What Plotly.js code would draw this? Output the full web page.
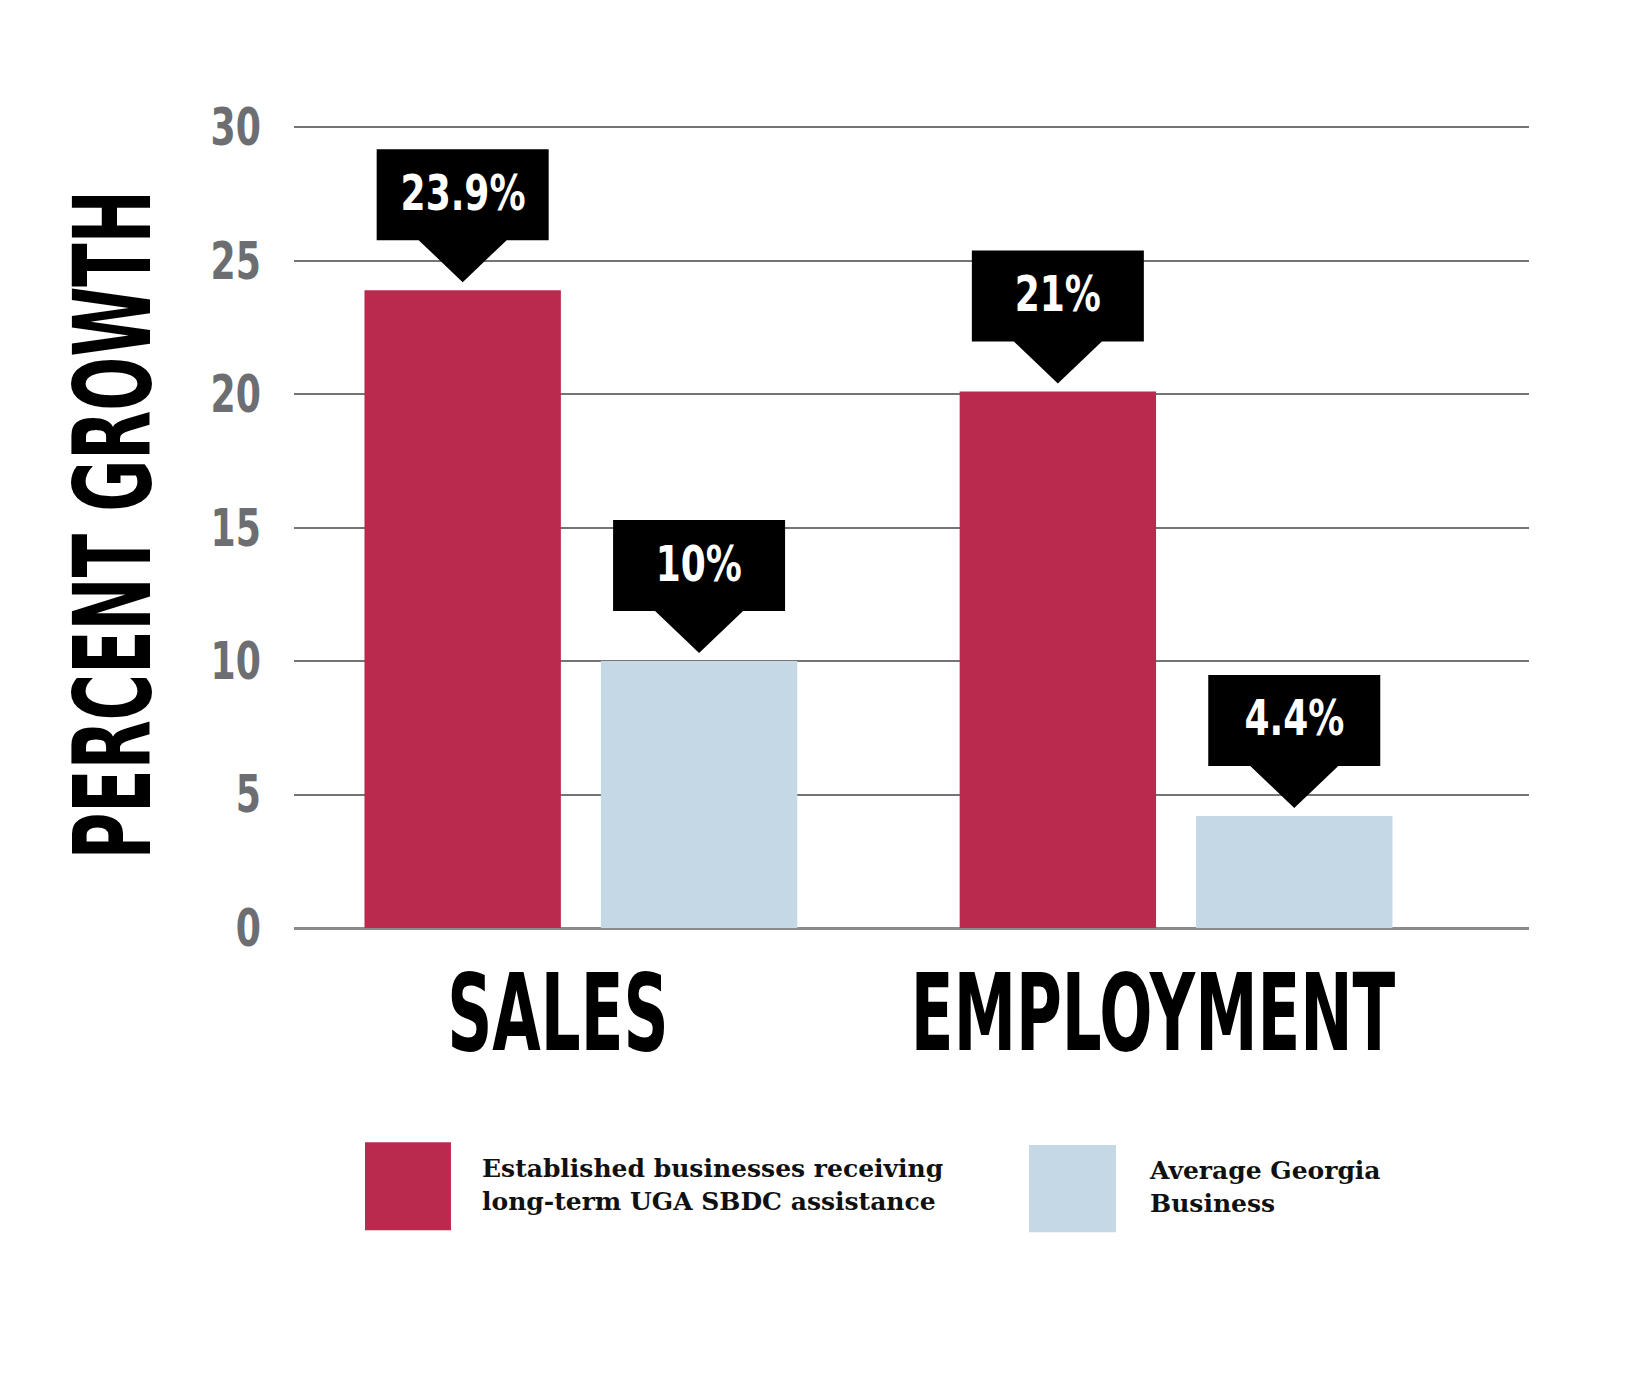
<!DOCTYPE html>
<html>
<head>
<meta charset="utf-8">
<script src="https://cdn.plot.ly/plotly-3.0.1.min.js"></script>
<style>
  html, body { margin: 0; padding: 0; background: #ffffff; }
  #chart { width: 1626px; height: 1393px; }
</style>
</head>
<body>
<div id="chart"></div>
<script>
// ---- Data ----
const categories = ["SALES", "EMPLOYMENT"];
const sbdcName = "Established businesses receiving<br>long-term UGA SBDC assistance";
const georgiaName = "Average Georgia<br>Business";
const sbdcValues = [23.9, 20.1];
const georgiaValues = [10, 4.2];
const sbdcLabels = ["23.9%", "21%"];
const georgiaLabels = ["10%", "4.4%"];
const yTickVals = [0, 5, 10, 15, 20, 25, 30];
const yAxisTitle = "PERCENT GROWTH";

// ---- Styling ----
const RED = "#BA2A4E";
const BLUE = "#C5D8E6";
const GRAY_TXT = "#6D6E71";
const NARROW = "Liberation Sans Narrow, DejaVu Sans Condensed, Arial Narrow, sans-serif";
const SERIF = "DejaVu Serif, serif";

const xPos = categories.map((c, i) => i);
const barW = 0.33;
const halfGap = 0.0336;
const sbdcOffset = -(barW + halfGap);
const georgiaOffset = halfGap;

const traces = [
  {
    type: "bar", name: sbdcName, x: xPos, y: sbdcValues,
    width: barW, offset: sbdcOffset,
    marker: { color: RED, line: { width: 0 } },
    hoverinfo: "skip", showlegend: false
  },
  {
    type: "bar", name: georgiaName, x: xPos, y: georgiaValues,
    width: barW, offset: georgiaOffset,
    marker: { color: BLUE, line: { width: 0 } },
    hoverinfo: "skip", showlegend: false
  }
];

// Callout shapes (pixel-sized, anchored at each bar top) + labels
const GAP = 8, TRI_H = 42, TRI_HALF = 44, BOX_H = 91, BOX_HALF = 86;
function calloutPath() {
  const b = GAP + TRI_H, t = GAP + TRI_H + BOX_H;
  return `M ${-BOX_HALF} ${t} L ${BOX_HALF} ${t} L ${BOX_HALF} ${b} L ${TRI_HALF} ${b} ` +
         `L 0 ${GAP} L ${-TRI_HALF} ${b} L ${-BOX_HALF} ${b} Z`;
}
const shapes = [];
const annotations = [];
const calloutIdx = [];
function addCallouts(values, labels, offset) {
  values.forEach((v, i) => {
    const cx = xPos[i] + offset + barW / 2;
    shapes.push({
      type: "path", xref: "x", yref: "y",
      xsizemode: "pixel", ysizemode: "pixel",
      xanchor: cx, yanchor: v,
      path: calloutPath(),
      fillcolor: "#000000", line: { width: 0 }, layer: "above"
    });
    calloutIdx.push(annotations.length);
    annotations.push({
      xref: "x", yref: "y", x: cx, y: v,
      yshift: GAP + TRI_H + BOX_H / 2 + 2,
      xanchor: "center", yanchor: "middle",
      text: labels[i], showarrow: false,
      font: { family: NARROW, size: 50, color: "#ffffff", weight: "bold" }
    });
  });
}
addCallouts(sbdcValues, sbdcLabels, sbdcOffset);
addCallouts(georgiaValues, georgiaLabels, georgiaOffset);

// Legend (custom, large swatches)
shapes.push({ type: "rect", xref: "paper", yref: "paper",
  x0: 0.0575, x1: 0.1271, y0: -0.267, y1: -0.3768,
  fillcolor: RED, line: { width: 0 } });
shapes.push({ type: "rect", xref: "paper", yref: "paper",
  x0: 0.5951, x1: 0.6656, y0: -0.2707, y1: -0.3793,
  fillcolor: BLUE, line: { width: 0 } });
annotations.push({ xref: "paper", yref: "paper", x: 0.1506, y: -0.32,
  xanchor: "left", yanchor: "middle", align: "left", showarrow: false,
  text: sbdcName, font: { family: SERIF, size: 25, color: "#111111", weight: "bold" } });
annotations.push({ xref: "paper", yref: "paper", x: 0.6907, y: -0.323,
  xanchor: "left", yanchor: "middle", align: "left", showarrow: false,
  text: georgiaName, font: { family: SERIF, size: 25, color: "#111111", weight: "bold" } });

// Y axis title as annotation
const titleIndex = annotations.length;
annotations.push({ xref: "paper", yref: "paper", x: -0.1466, y: 0.5028,
  xanchor: "center", yanchor: "middle", textangle: -90, showarrow: false,
  text: yAxisTitle, font: { family: NARROW, size: 107, color: "#000000", weight: "bold" } });

const layout = {
  width: 1626, height: 1393, autosize: false,
  margin: { l: 294, r: 97, t: 126, b: 465 },
  paper_bgcolor: "#ffffff", plot_bgcolor: "#ffffff",
  barmode: "overlay",
  showlegend: false,
  xaxis: {
    range: [-0.482, 1.593], tickmode: "array", tickvals: xPos, ticktext: categories,
    showgrid: false, zeroline: false, showline: false, ticks: "",
    ticklabelstandoff: 14, ticklabelshift: -23,
    tickfont: { family: NARROW, size: 107, color: "#000000", weight: "bold" },
    fixedrange: true
  },
  yaxis: {
    range: [0, 30.05], tickmode: "array", tickvals: yTickVals,
    showgrid: true, gridcolor: "#747474", gridwidth: 2,
    zeroline: true, zerolinecolor: "#8a8a8a", zerolinewidth: 3,
    showline: false, ticks: "", ticklabelstandoff: 32,
    tickfont: { family: NARROW, size: 51, color: GRAY_TXT, weight: "bold" },
    fixedrange: true
  },
  shapes: shapes,
  annotations: annotations
};

function condense(nodes, factor) {
  nodes.forEach(el => {
    const len = el.getComputedTextLength();
    if (len > 0) {
      el.setAttribute("textLength", (len * factor).toFixed(1));
      el.setAttribute("lengthAdjust", "spacingAndGlyphs");
    }
  });
}
function annText(gd, idx) {
  return Array.from(gd.querySelectorAll('g.annotation[data-index="' + idx + '"] text'));
}

Plotly.newPlot("chart", traces, layout, { staticPlot: true, displayModeBar: false }).then(gd => {
  condense(Array.from(gd.querySelectorAll(".xtick text")), 0.65);
  condense(Array.from(gd.querySelectorAll(".ytick text")), 0.79);
  condense(annText(gd, titleIndex), 0.66);
  calloutIdx.forEach(i => condense(annText(gd, i), 0.80));
});
</script>
</body>
</html>
